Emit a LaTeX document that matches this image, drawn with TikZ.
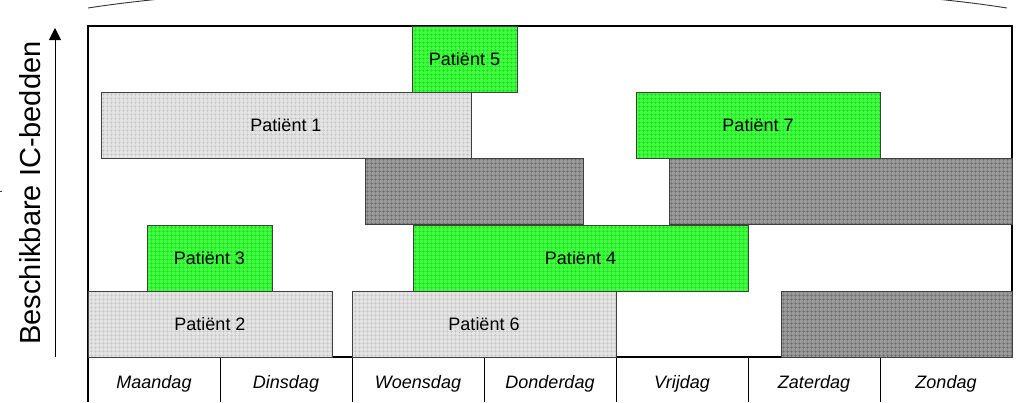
\documentclass[tikz,border=0pt]{standalone}
\usepackage{fontspec}
\setmainfont{Liberation Sans}
\usetikzlibrary{patterns.meta,arrows.meta}

\definecolor{lichtgrijs}{HTML}{E4E4E4}
\definecolor{lichtlijn}{HTML}{C4C4C4}
\definecolor{groen}{HTML}{40FF40}
\definecolor{groenlijn}{HTML}{1ED81E}
\definecolor{donkergrijs}{HTML}{9A9A9A}
\definecolor{donkerlijn}{HTML}{6A6A6A}

\begin{document}
\begin{tikzpicture}[x=1pt,y=-1pt,
  every node/.style={inner sep=0pt,font=\fontsize{18}{20}\selectfont},
  bed/.style={draw=black!75,line width=0.9pt,minimum height=66pt},
  vrij/.style={bed,preaction={fill=lichtgrijs},pattern={Hatch[angle=0,distance=4pt,line width=0.5pt]},pattern color=lichtlijn},
  bezet/.style={bed,preaction={fill=groen},pattern={Hatch[angle=0,distance=4pt,line width=0.5pt]},pattern color=groenlijn},
  leeg/.style={bed,preaction={fill=donkergrijs},pattern={Hatch[angle=0,distance=4pt,line width=0.5pt]},pattern color=donkerlijn},
  dag/.style={font=\fontsize{18}{20}\selectfont\itshape}]
\useasboundingbox (0,0) rectangle (1016,402);
% brace above the week
\draw [black!80,line width=0.9pt] (88,8) .. controls (300,-25) and (800,-25) .. (1007,8);
\draw [black!80,line width=0.9pt] (0,191) -- (2,191);
% frame
\draw [line width=1.2pt] (88,402) -- (88,26) -- (1012,26) -- (1012,357);
\draw [line width=1.2pt] (88,357) -- (1012,357);
\foreach \x in {220,352,484,616,748,880}
  \draw [line width=1pt] (\x,357) -- (\x,402);
% days
\node [dag] (ma) at (154,384) {Maandag};
\node [dag] (di) at (286,384) {Dinsdag};
\node [dag] (wo) at (418,384) {Woensdag};
\node [dag] (do) at (550,384) {Donderdag};
\node [dag] (vr) at (682,384) {Vrijdag};
\node [dag] (za) at (814,384) {Zaterdag};
\node [dag] (zo) at (946,384) {Zondag};
% row 1
\node [vrij,minimum width=244pt] (p2) at (210,324) {Patiënt 2};
\node [vrij,minimum width=264pt] (p6) at (484,324) {Patiënt 6};
\node [leeg,minimum width=231pt] (b1) at (896.5,324) {};
% row 2
\node [bezet,minimum width=125pt] (p3) at (209.5,258) {Patiënt 3};
\node [bezet,minimum width=335pt] (p4) at (580.5,258) {Patiënt 4};
% row 3
\node [leeg,minimum width=218pt] (b2) at (474,191.5) {};
\node [leeg,minimum width=343pt] (b3) at (840.5,191.5) {};
% row 4
\node [vrij,minimum width=370pt] (p1) at (286,125) {Patiënt 1};
\node [bezet,minimum width=244pt] (p7) at (758,125) {Patiënt 7};
% row 5
\node [bezet,minimum width=105pt] (p5) at (464.5,59) {Patiënt 5};
% axis
\coordinate (voet) at (55,357);
\coordinate (top) at (55,28);
\draw [line width=0.9pt,-{Triangle[width=12pt,length=12pt]}] (voet) -- (top);
\node [rotate=90,font=\fontsize{29}{32}\selectfont] (as) at (30,193) {Beschikbare IC-bedden};
\end{tikzpicture}
\end{document}
